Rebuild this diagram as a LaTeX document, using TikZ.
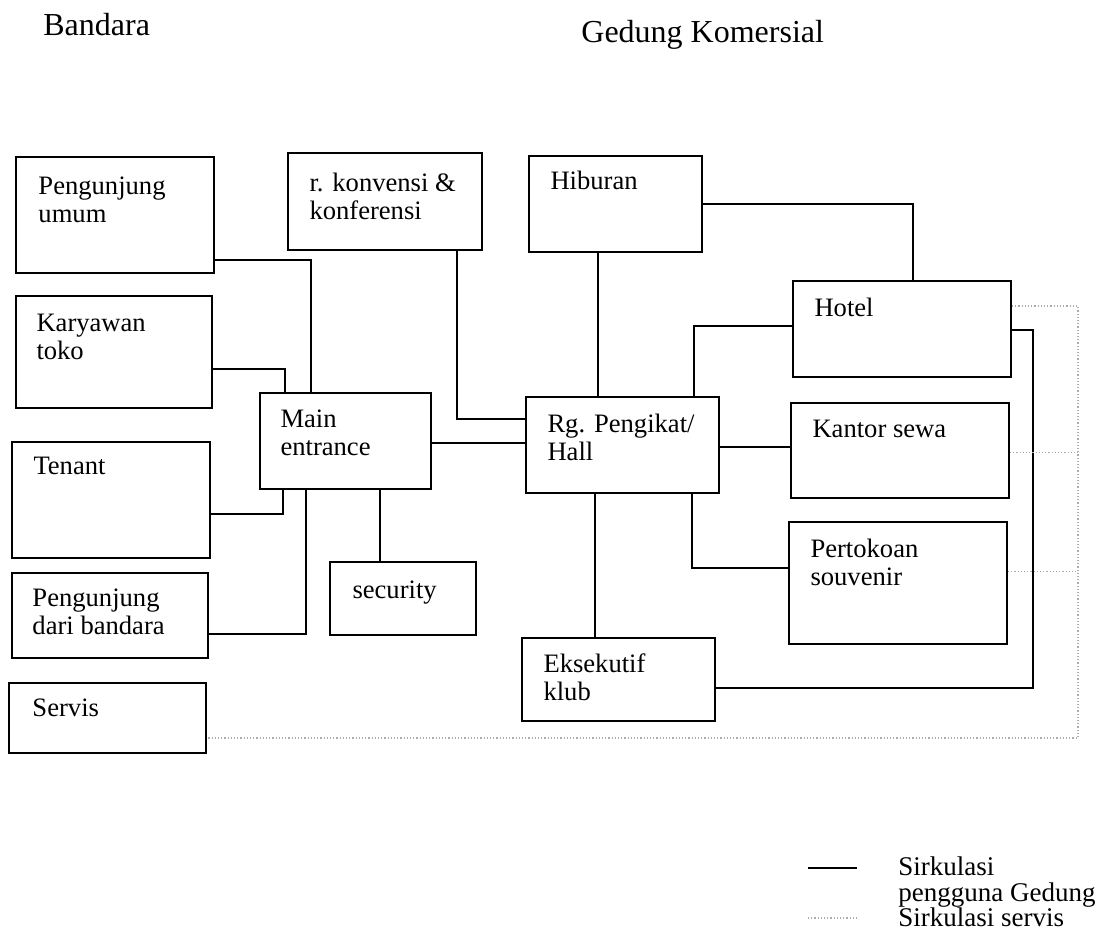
\documentclass[tikz,border=0pt]{standalone}
\usepackage{fontspec}
\setmainfont{Liberation Serif}
\usetikzlibrary{fit}

% multi-line label whose baseline is the first line
\newcommand\lns[1]{\begin{tabular}[t]{@{}l@{}}#1\end{tabular}}

\begin{document}
\begin{tikzpicture}[x=0.5pt, y=-0.5pt,
  room/.style={draw, line width=0.9pt, inner sep=0pt},
  label/.style={anchor=base west, inner sep=0pt,
    font=\fontsize{13.3}{14}\selectfont},
  title/.style={anchor=base west, inner sep=0pt,
    font=\fontsize{16}{18}\selectfont},
  user/.style={line width=0.9pt},
  svc/.style={gray!65, line width=0.6pt, densely dotted}]

\useasboundingbox (0,0) rectangle (1098,941);

% headings
\node[title] (tBandara) at (43,36) {Bandara};
\node[title] (tGedung) at (581,43) {Gedung Komersial};

% rooms
\node[room, fit={(16,157) (214,273)}] (umum) {};
\node[room, fit={(16,296) (212,408)}] (kary) {};
\node[room, fit={(12,442) (210,558)}] (tenant) {};
\node[room, fit={(12,573) (208,658)}] (bdr) {};
\node[room, fit={(9,683) (206,753)}] (servis) {};
\node[room, fit={(288,153) (482,250)}] (konv) {};
\node[room, fit={(260,393) (431,489)}] (main) {};
\node[room, fit={(330,562) (476,635)}] (sec) {};
\node[room, fit={(529,156) (702,252)}] (hib) {};
\node[room, fit={(526,397) (719,493)}] (hall) {};
\node[room, fit={(793,281) (1011,377)}] (hotel) {};
\node[room, fit={(791,403) (1009,498)}] (kantor) {};
\node[room, fit={(789,522) (1007,644)}] (pert) {};
\node[room, fit={(522,638) (715,721)}] (eks) {};

% room names
\node[label] (umum-t) at ([shift={(23,38)}]umum.north west) {\lns{Pengunjung\\umum}};
\node[label] (kary-t) at ([shift={(21,36)}]kary.north west) {\lns{Karyawan\\toko}};
\node[label] (tenant-t) at ([shift={(22,33)}]tenant.north west) {Tenant};
\node[label] (bdr-t) at ([shift={(21,34)}]bdr.north west) {\lns{Pengunjung\\dari bandara}};
\node[label] (servis-t) at ([shift={(24,34)}]servis.north west) {Servis};
\node[label] (konv-t) at ([shift={(22,39)}]konv.north west) {\lns{r. konvensi \&\\konferensi}};
\node[label] (main-t) at ([shift={(21,35)}]main.north west) {\lns{Main\\entrance}};
\node[label] (sec-t) at ([shift={(23,37)}]sec.north west) {security};
\node[label] (hib-t) at ([shift={(22,34)}]hib.north west) {Hiburan};
\node[label] (hall-t) at ([shift={(22,36)}]hall.north west) {\lns{Rg. Pengikat/\\Hall}};
\node[label] (hotel-t) at ([shift={(22,36)}]hotel.north west) {Hotel};
\node[label] (kantor-t) at ([shift={(22,35)}]kantor.north west) {Kantor sewa};
\node[label] (pert-t) at ([shift={(22,36)}]pert.north west) {\lns{Pertokoan\\souvenir}};
\node[label] (eks-t) at ([shift={(22,35)}]eks.north west) {\lns{Eksekutif\\klub}};

% user circulation
\draw[user] (umum.south east) ++(0,-14) -| ([shift={(52,0)}]main.north west);
\draw[user] (kary.south east) ++(0,-40) -| ([shift={(26,0)}]main.north west);
\draw[user] (tenant.south east) ++(0,-45) -| ([shift={(24,0)}]main.south west);
\draw[user] (bdr.south east) ++(0,-25) -| ([shift={(47,0)}]main.south west);
\draw[user] (sec.north west) ++(51,0) coordinate (p1) -- (p1 |- main.south);
\draw[user] (main.north east) ++(0,51) coordinate (p2) -- (p2 -| hall.west);
\draw[user] (konv.south west) ++(170,0) |- ([shift={(0,23)}]hall.north west);
\draw[user] (hall.north west) ++(73,0) coordinate (p3) -- (p3 |- hib.south);
\draw[user] (hib.east) -| ([shift={(121,0)}]hotel.north west);
\draw[user] (hall.north west) ++(169,0) |- ([shift={(0,46)}]hotel.north west);
\draw[user] (hall.north east) ++(0,51) coordinate (p4) -- (p4 -| kantor.west);
\draw[user] (hall.south west) ++(167,0) |- ([shift={(0,47)}]pert.north west);
\draw[user] (hall.south west) ++(70,0) coordinate (p5) -- (p5 |- eks.north);
\draw[user] (eks.north east) ++(0,51) -| ([shift={(21,50)}]hotel.north east)
  -- ([shift={(0,50)}]hotel.north east);

% service circulation
\coordinate (svcCorner) at (1078,738);
\draw[svc] (hotel.north east) ++(0,26) -| (svcCorner) -- (svcCorner -| servis.east);
\draw[svc] (kantor.north east) ++(0,50) coordinate (q1) -- (q1 -| svcCorner);
\draw[svc] (pert.north east) ++(0,50) coordinate (q2) -- (q2 -| svcCorner);

% legend
\coordinate (lgA1) at (808,868);
\coordinate (lgA2) at (857,868);
\coordinate (lgB1) at (808,918);
\coordinate (lgB2) at (857,918);
\draw[user] (lgA1) -- (lgA2);
\draw[svc] (lgB1) -- (lgB2);
\node[label, font=\fontsize{13.5}{13}\selectfont] (lg-user) at (898,875) {\lns{Sirkulasi\\pengguna Gedung}};
\node[label, font=\fontsize{13.5}{13}\selectfont] (lg-svc) at (898,926) {Sirkulasi servis};

\end{tikzpicture}
\end{document}
